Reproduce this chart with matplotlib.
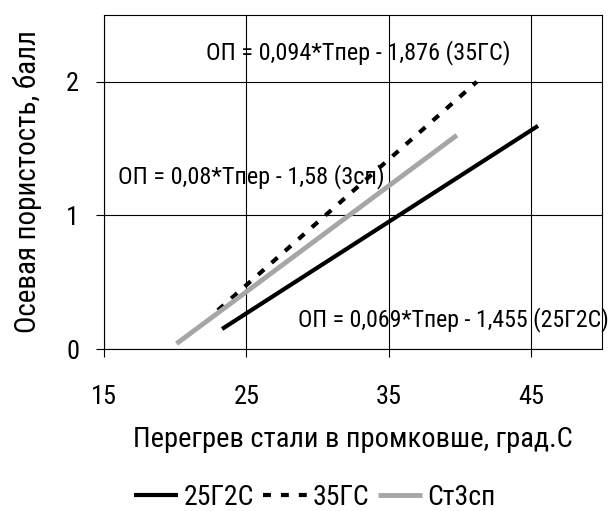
import matplotlib
matplotlib.use("Agg")
import matplotlib.pyplot as plt

plt.rcParams['font.family'] = ['Roboto Condensed', 'Liberation Sans', 'DejaVu Sans']

# trend line endpoints
x_25g2s = [23.3, 45.5]
y_25g2s = [0.15, 1.67]
x_35gs = [23.0, 41.2]
y_35gs = [0.29, 2.0]
x_st3 = [20.1, 39.8]
y_st3 = [0.04, 1.6]

xticks = [15, 25, 35, 45]
yticks = [0, 1, 2]

fig = plt.figure(figsize=(6.14, 5.11), dpi=100)
ax = fig.add_axes([104/614, 1 - 349/511, 498/614, 334/511])

ax.plot(x_25g2s, y_25g2s, color='black', lw=3, solid_capstyle='butt', label='25Г2С')
ax.plot(x_35gs, y_35gs, color='black', lw=3, ls=(0, (1.9, 2.4)), label='35ГС')
ax.plot(x_st3, y_st3, color='#a6a6a6', lw=3.5, solid_capstyle='butt', label='Ст3сп')

ax.set_xlim(15, 50)
ax.set_ylim(0, 2.5)
ax.set_xticks(xticks)
ax.set_yticks(yticks)
ax.grid(True, color='black', lw=0.8)
for s in ax.spines.values():
    s.set_linewidth(0.8)
ax.tick_params(direction='out', length=6, width=0.8, labelsize=19)
ax.tick_params(axis='x', pad=20)
ax.tick_params(axis='y', pad=12)

ax.set_xlabel('Перегрев стали в промковше, град.С', fontsize=20.5, labelpad=12)
ax.set_ylabel('Осевая пористость, балл', fontsize=21, labelpad=17)

ax.text(32.9, 2.22, 'ОП = 0,094*Тпер - 1,876 (35ГС)', fontsize=17.5, ha='center', va='center')
ax.text(16.0, 1.29, 'ОП = 0,08*Тпер - 1,58 (3сп)', fontsize=17.5, ha='left', va='center')
ax.text(28.6, 0.22, 'ОП = 0,069*Тпер - 1,455 (25Г2С)', fontsize=17.2, ha='left', va='center')

fig.legend(loc='center', bbox_to_anchor=(0.513, 1 - 497/511), ncol=3, frameon=False,
           fontsize=20, handlelength=1.6, handletextpad=0.2, columnspacing=0.3)

fig.savefig('out.png', dpi=100)
